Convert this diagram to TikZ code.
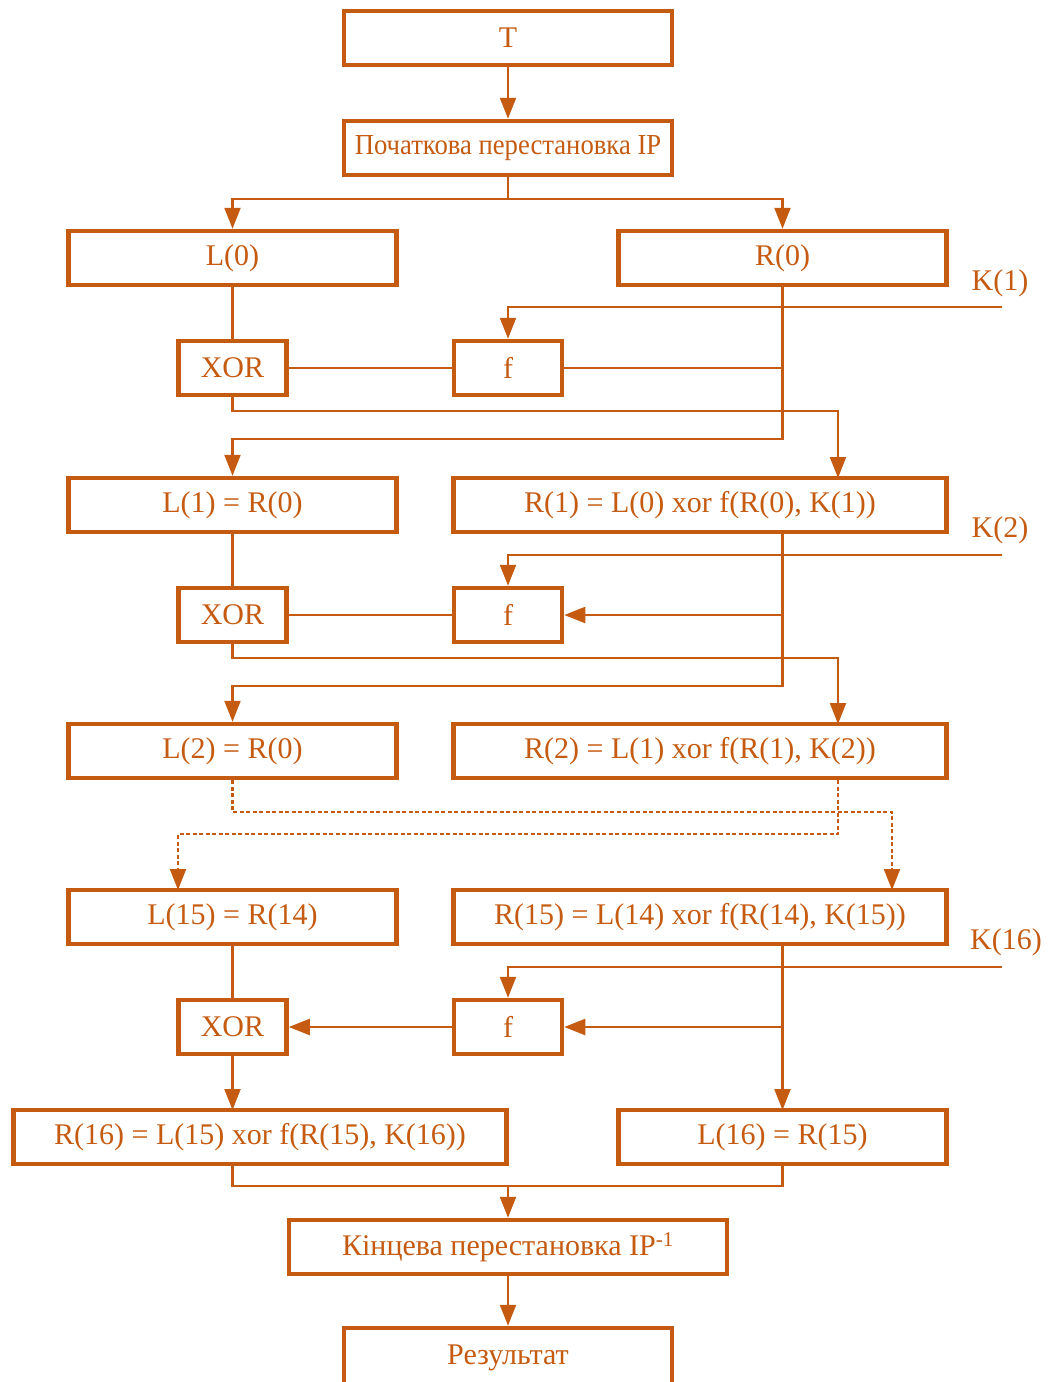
\documentclass[tikz,border=0pt]{standalone}
\usepackage{fontspec}
\setmainfont{Liberation Serif}
\newfontfamily\narrowserif[FakeStretch=0.92]{Liberation Serif}
\usetikzlibrary{arrows.meta}
\definecolor{des}{RGB}{197,90,17}
\begin{document}
\begin{tikzpicture}[x=1pt,y=-1pt,
  box/.style={draw=des, line width=4.5pt, text=des, font=\fontsize{30}{32}\selectfont, inner sep=0pt, minimum height=54},
  lbl/.style={text=des, font=\fontsize{30}{32}\selectfont, inner sep=0pt},
  ln/.style={draw=des, line width=2.2pt},
  arr/.style={ln, -{Triangle[length=21pt,width=16pt]}},
  dot/.style={arr, dash pattern=on 4pt off 2.5pt}]
\useasboundingbox (0,0) rectangle (1049,1382);
% boxes
\node[box, minimum width=328] (T) at (508,38) {T};
\node[box, minimum width=328] (IP) at (508,148) {\narrowserif\fontsize{29}{31}\selectfont Початкова перестановка IP};
\node[box, minimum width=328] (L0) at (232.5,258) {L(0)};
\node[box, minimum width=328] (R0) at (782.5,258) {R(0)};
\node[box, minimum width=108] (X1) at (232.5,368) {XOR};
\node[box, minimum width=108] (F1) at (508,368) {f};
\node[box, minimum width=328] (L1) at (232.5,505) {L(1) = R(0)};
\node[box, minimum width=493] (R1) at (700,505) {R(1) = L(0) xor f(R(0), K(1))};
\node[box, minimum width=108] (X2) at (232.5,615) {XOR};
\node[box, minimum width=108] (F2) at (508,615) {f};
\node[box, minimum width=328] (L2) at (232.5,751) {L(2) = R(0)};
\node[box, minimum width=493] (R2) at (700,751) {R(2) = L(1) xor f(R(1), K(2))};
\node[box, minimum width=328] (L15) at (232.5,917) {L(15) = R(14)};
\node[box, minimum width=493] (R15) at (700,917) {R(15) = L(14) xor f(R(14), K(15))};
\node[box, minimum width=108] (X3) at (232.5,1027) {XOR};
\node[box, minimum width=108] (F3) at (508,1027) {f};
\node[box, minimum width=493] (R16) at (260,1137) {R(16) = L(15) xor f(R(15), K(16))};
\node[box, minimum width=328] (L16) at (782.5,1137) {L(16) = R(15)};
\node[box, minimum width=438] (IPi) at (508,1247) {Кінцева перестановка IP\textsuperscript{-1}};
\node[box, minimum width=328, minimum height=60] (Res) at (508,1358) {Результат};
% key labels
\node[lbl] (K1) at (1000,283) {K(1)};
\node[lbl] (K2) at (1000,530) {K(2)};
\node[lbl] (K16) at (1006,942) {K(16)};
\coordinate (k1) at (1002,307);
\coordinate (k2) at (1002,555);
\coordinate (k16) at (1002,967);
% taps
\coordinate (r1in) at (838,478);
\coordinate (r2in) at (838,724);
\coordinate (r1out) at (782.5,533);
\coordinate (r15out) at (782.5,946);
\coordinate (r16in) at (232.5,1110);
\coordinate (l16in) at (782.5,1110);
\coordinate (r15in) at (892,890);
\coordinate (l15in) at (178,890);
% top
\draw[arr] (T) -- (IP);
\draw[arr] (IP.south) -- ++(0,22) -| (L0.north);
\draw[arr] (IP.south) -- ++(0,22) -| (R0.north);
% round 1
\draw[arr] (k1) -| (F1.north);
\draw[ln] (L0) -- (X1);
\draw[ln] (X1) -- (F1);
\draw[ln] (F1.east) -- (F1.east -| R0.south);
\draw[arr] (R0.south) -- ++(0,152) -| (L1.north);
\draw[arr] (X1.south) -- ++(0,14) -| (r1in);
% round 2
\draw[arr] (k2) -| (F2.north);
\draw[ln] (L1) -- (X2);
\draw[ln] (X2) -- (F2);
\draw[arr] (F2.east -| r1out) -- (F2.east);
\draw[arr] (r1out) -- ++(0,153) -| (L2.north);
\draw[arr] (X2.south) -- ++(0,14) -| (r2in);
% skipped rounds
\draw[dot] (L2.south) -- ++(0,32) -| (r15in);
\draw[dot] (L2.south -| r2in) -- ++(0,54) -| (l15in);
% round 16
\draw[arr] (k16) -| (F3.north);
\draw[ln] (L15) -- (X3);
\draw[arr] (F3) -- (X3);
\draw[arr] (F3.east -| r15out) -- (F3.east);
\draw[arr] (r15out) -- (l16in);
\draw[arr] (X3) -- (r16in);
% final
\draw[ln] (R16.south -| r16in) -- ++(0,20) -| (L16.south);
\draw[arr] (IPi.north) ++(0,-32) -- (IPi.north);
\draw[arr] (IPi) -- (Res);
\end{tikzpicture}
\end{document}
